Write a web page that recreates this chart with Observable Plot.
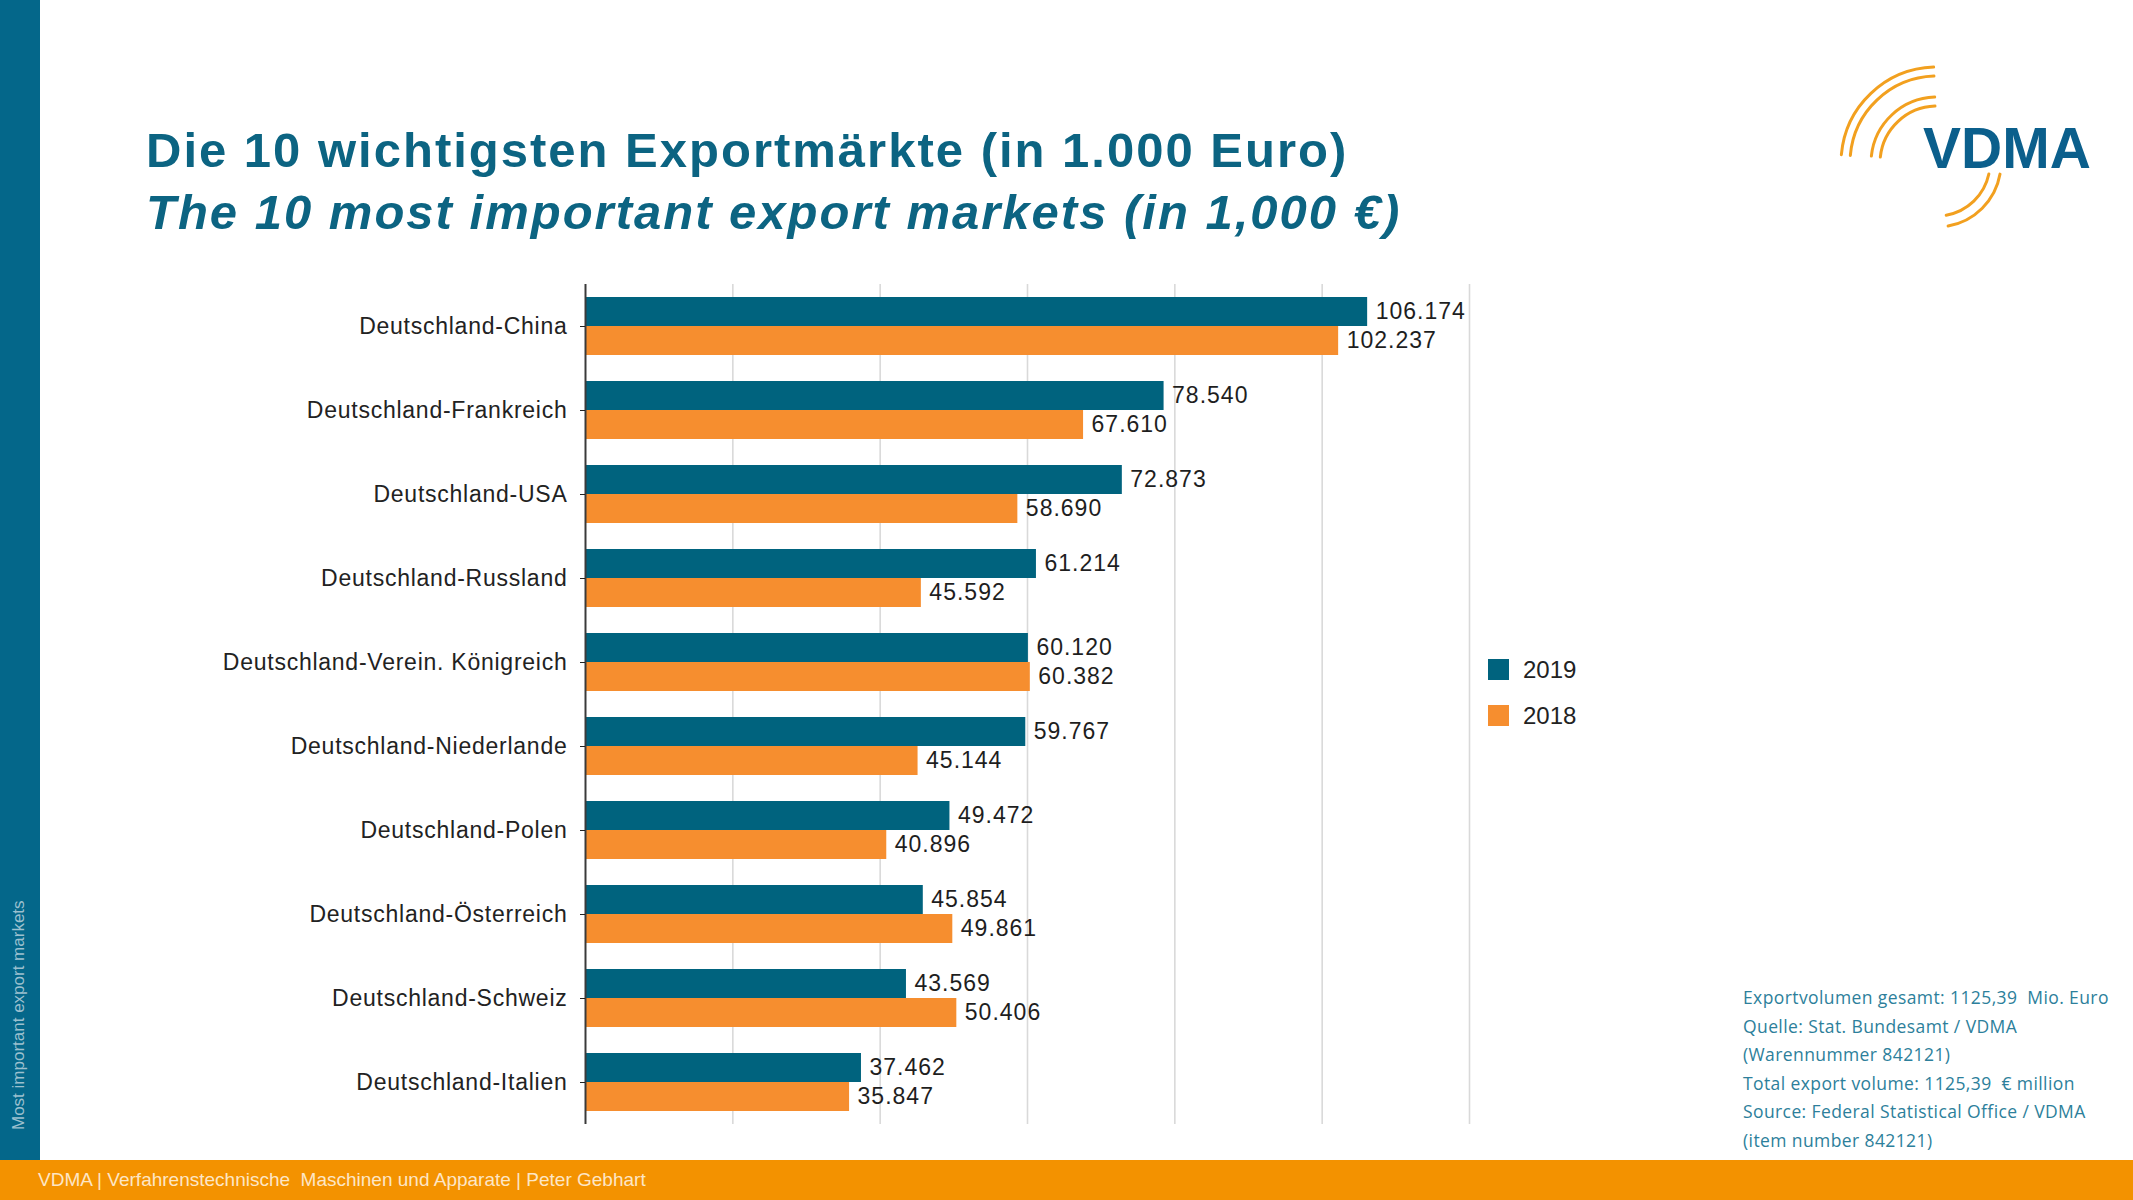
<!DOCTYPE html>
<html><head><meta charset="utf-8">
<script src="https://cdn.jsdelivr.net/npm/d3@7"></script>
<script src="https://cdn.jsdelivr.net/npm/@observablehq/plot@0.6"></script>
<style>
html,body{margin:0;padding:0;background:#fff;}
body{width:2133px;height:1200px;position:relative;overflow:hidden;font-family:"Liberation Sans",Arial,sans-serif;}
#strip{position:absolute;left:0;top:0;width:40px;height:1160px;background:#04678a;}
#side{position:absolute;left:10px;top:1130px;transform-origin:0 0;transform:rotate(-90deg);font-size:17px;line-height:18px;color:#9cc0cf;white-space:nowrap;}
#footer{position:absolute;left:0;top:1160px;width:2133px;height:40px;background:#f39200;}
#footer span{position:absolute;left:38px;top:9px;font-size:19px;line-height:22px;color:#fde6c6;white-space:nowrap;}
.title{position:absolute;left:146px;font-weight:bold;font-size:49px;line-height:49px;letter-spacing:2px;color:#0c6482;white-space:nowrap;}
#t1{top:126px}
#t2{top:188px;font-style:italic}
#chart{position:absolute;left:0;top:270px;}
#chart g[aria-label="fy-axis tick label"] text{letter-spacing:0.75px;}
#chart g[aria-label="text"] text{letter-spacing:1px;}
#legend{position:absolute;left:1488px;top:659px;}
.lrow{display:flex;align-items:center;height:21px;margin-bottom:25px;}
.lsw{width:21px;height:21px;}
.llab{margin-left:14px;font-size:24px;color:#222;}
#note{position:absolute;left:1743px;top:983px;font-family:"Open Sans",sans-serif;font-size:17.5px;letter-spacing:0.4px;line-height:28.6px;color:#2d7f9b;white-space:nowrap}
#logo{position:absolute;left:1800px;top:40px;}
</style>
</head><body>
<div id="strip"></div>
<div id="side">Most important export markets</div>
<div class="title" id="t1">Die 10 wichtigsten Exportmärkte (in 1.000 Euro)</div>
<div class="title" id="t2">The 10 most important export markets (in 1,000 €)</div>
<svg id="logo" width="333" height="220"></svg>
<div id="chart"></div>
<div id="legend"></div>
<div id="note">Exportvolumen gesamt: 1125,39&nbsp; Mio. Euro<br>Quelle: Stat. Bundesamt / VDMA<br>(Warennummer 842121)<br>Total export volume: 1125,39&nbsp; € million<br>Source: Federal Statistical Office / VDMA<br>(item number 842121)</div>
<div id="footer"><span>VDMA | Verfahrenstechnische&nbsp; Maschinen und Apparate | Peter Gebhart</span></div>
<script>
const categories = ["Deutschland-China","Deutschland-Frankreich","Deutschland-USA","Deutschland-Russland","Deutschland-Verein. Königreich","Deutschland-Niederlande","Deutschland-Polen","Deutschland-Österreich","Deutschland-Schweiz","Deutschland-Italien"];
const values2019 = [106174, 78540, 72873, 61214, 60120, 59767, 49472, 45854, 43569, 37462];
const values2018 = [102237, 67610, 58690, 45592, 60382, 45144, 40896, 49861, 50406, 35847];
const years = ["2019", "2018"];
const colors = ["#00637e", "#f68e2f"];
const gridTicks = [20000, 40000, 60000, 80000, 100000, 120000];

const rows = categories.flatMap((c, i) => [
  {market: c, year: "2019", value: values2019[i]},
  {market: c, year: "2018", value: values2018[i]}
]);
const fmt = d3.formatLocale({decimal: ",", thousands: ".", grouping: [3], currency: ["", "€"]}).format(",d");

const chart = Plot.plot({
  width: 1600, height: 868,
  marginLeft: 585, marginRight: 131, marginTop: 12, marginBottom: 12,
  style: {fontFamily: '"Liberation Sans", Arial, sans-serif', background: "transparent", overflow: "visible"},
  x: {domain: [0, 120000], axis: null},
  y: {domain: years, axis: null, paddingInner: 0, paddingOuter: 0.408},
  fy: {domain: categories, padding: 0},
  color: {domain: years, range: colors},
  marks: [
    Plot.ruleX(gridTicks, {stroke: "#d9d9d9", strokeWidth: 1.6}),
    Plot.barX(rows, {x: "value", y: "year", fy: "market", fill: "year"}),
    Plot.text(rows, {x: "value", y: "year", fy: "market", text: d => fmt(d.value), textAnchor: "start", dx: 8, fontSize: 23, fill: "#1e1e1e"}),
    Plot.ruleX([0], {stroke: "#3a3a3a", strokeWidth: 2}),
    Plot.axisFy({anchor: "left", tickSize: 5, tickPadding: 13, fontSize: 23, label: null, color: "#222"})
  ]
});
document.getElementById("chart").appendChild(chart);

// legend
const lg = d3.select("#legend");
years.forEach((y, i) => {
  const r = lg.append("div").attr("class", "lrow");
  r.append("div").attr("class", "lsw").style("background", colors[i]);
  r.append("div").attr("class", "llab").text(y);
});

// logo (decoration)
const logo = d3.select("#logo");
const cx = 137, cy = 123;
function arcPath(r, a0, a1) {
  const t0 = a0 * Math.PI / 180, t1 = a1 * Math.PI / 180;
  return `M${cx + r * Math.cos(t0)},${cy + r * Math.sin(t0)} A${r},${r} 0 0 1 ${cx + r * Math.cos(t1)},${cy + r * Math.sin(t1)}`;
}
[[96,185,268],[87,185,268],[66,186,268],[57,186,268],[53,12,80],[64,10,80]].forEach(([r,a0,a1]) => {
  logo.append("path").attr("d", arcPath(r, a0, a1)).attr("fill", "none").attr("stroke", "#f2a01f").attr("stroke-width", 3).attr("stroke-linecap", "round");
});
logo.append("text").attr("x", 123).attr("y", 128).attr("font-family", '"Liberation Sans", Arial, sans-serif').attr("font-weight", "bold").attr("font-size", 57).attr("fill", "#0b5f8c").text("VDMA");
</script>
</body></html>
